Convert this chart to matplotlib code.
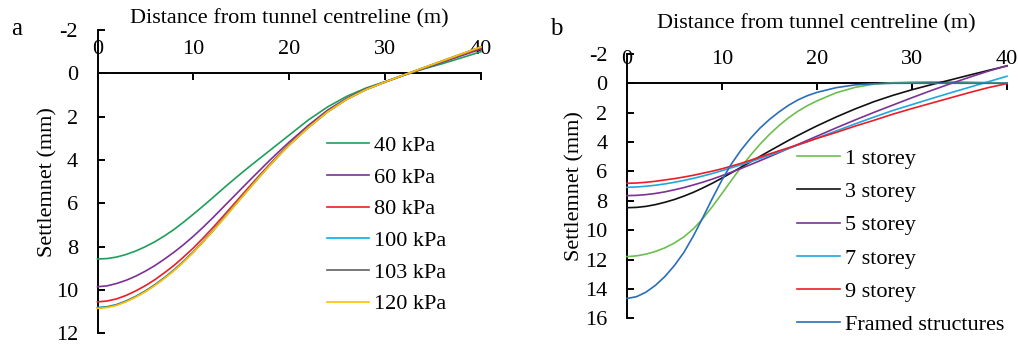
import matplotlib
matplotlib.use('Agg')
import matplotlib.pyplot as plt

plt.rcParams['font.family'] = ['Liberation Serif', 'DejaVu Serif']
plt.rcParams['axes.unicode_minus'] = False

# ---------------- data ----------------
distance = [0, 1, 2, 3, 4, 5, 6, 7, 8, 9, 10, 11, 12, 13, 14, 15, 16, 17, 18, 19, 20,
            22, 24, 26, 28, 30, 32, 34, 36, 38, 40]

# Panel a : face pressure
labels_a = ['40 kPa', '60 kPa', '80 kPa', '100 kPa', '103 kPa', '120 kPa']
s_40kpa = [8.57, 8.55, 8.48, 8.36, 8.20, 8.00, 7.77, 7.50, 7.20, 6.86, 6.50, 6.13, 5.75, 5.36, 4.98, 4.61, 4.25, 3.90, 3.55, 3.20, 2.85,
           2.15, 1.55, 1.06, 0.68, 0.38, 0.07, -0.20, -0.45, -0.72, -1.00]
s_60kpa = [9.85, 9.81, 9.70, 9.55, 9.36, 9.13, 8.87, 8.57, 8.25, 7.90, 7.52, 7.11, 6.68, 6.23, 5.78, 5.33, 4.88, 4.44, 4.00, 3.58, 3.17,
           2.40, 1.70, 1.15, 0.72, 0.40, 0.08, -0.22, -0.52, -0.82, -1.12]
s_80kpa = [10.55, 10.51, 10.41, 10.25, 10.04, 9.80, 9.52, 9.20, 8.86, 8.47, 8.06, 7.61, 7.14, 6.65, 6.15, 5.65, 5.15, 4.66, 4.18, 3.71, 3.27,
           2.47, 1.75, 1.18, 0.74, 0.40, 0.08, -0.24, -0.55, -0.86, -1.17]
s_100kpa = [10.81, 10.77, 10.67, 10.50, 10.29, 10.04, 9.75, 9.42, 9.06, 8.66, 8.23, 7.76, 7.27, 6.76, 6.24, 5.73, 5.22, 4.71, 4.22, 3.75, 3.30,
            2.49, 1.77, 1.19, 0.75, 0.40, 0.07, -0.25, -0.57, -0.89, -1.21]
s_103kpa = [10.83, 10.79, 10.69, 10.52, 10.31, 10.06, 9.77, 9.44, 9.08, 8.68, 8.25, 7.78, 7.29, 6.78, 6.26, 5.74, 5.23, 4.72, 4.23, 3.76, 3.31,
            2.50, 1.78, 1.20, 0.75, 0.40, 0.07, -0.26, -0.58, -0.90, -1.22]
s_120kpa = [10.85, 10.81, 10.71, 10.54, 10.33, 10.08, 9.79, 9.46, 9.10, 8.70, 8.26, 7.79, 7.30, 6.79, 6.27, 5.75, 5.24, 4.73, 4.24, 3.76, 3.31,
            2.50, 1.78, 1.20, 0.75, 0.40, 0.07, -0.26, -0.58, -0.90, -1.22]

# Panel b : building storeys
labels_b = ['1 storey', '3 storey', '5 storey', '7 storey', '9 storey', 'Framed structures']
s_1st = [11.80, 11.75, 11.63, 11.45, 11.20, 10.87, 10.45, 9.90, 9.20, 8.38, 7.50, 6.60, 5.72, 4.90, 4.15, 3.48, 2.88, 2.35, 1.90, 1.52, 1.20,
         0.65, 0.28, 0.06, -0.04, -0.08, -0.10, -0.10, -0.08, -0.05, -0.02]
s_3st = [8.47, 8.45, 8.38, 8.26, 8.10, 7.91, 7.68, 7.42, 7.12, 6.80, 6.45, 6.09, 5.72, 5.35, 4.98, 4.61, 4.25, 3.89, 3.55, 3.22, 2.90,
         2.30, 1.75, 1.25, 0.82, 0.44, 0.10, -0.22, -0.55, -0.87, -1.18]
s_5st = [7.65, 7.63, 7.58, 7.50, 7.39, 7.25, 7.10, 6.92, 6.73, 6.52, 6.29, 6.05, 5.80, 5.54, 5.27, 5.00, 4.72, 4.44, 4.16, 3.88, 3.60,
         3.04, 2.50, 1.98, 1.48, 0.98, 0.50, 0.04, -0.40, -0.82, -1.20]
s_7st = [7.08, 7.06, 7.01, 6.94, 6.85, 6.74, 6.61, 6.47, 6.31, 6.14, 5.95, 5.75, 5.55, 5.34, 5.12, 4.90, 4.67, 4.44, 4.20, 3.97, 3.73,
         3.25, 2.77, 2.30, 1.85, 1.45, 1.05, 0.66, 0.28, -0.10, -0.48]
s_9st = [6.81, 6.79, 6.74, 6.67, 6.58, 6.49, 6.38, 6.26, 6.12, 5.98, 5.82, 5.64, 5.45, 5.24, 5.02, 4.81, 4.60, 4.39, 4.18, 3.97, 3.75,
         3.35, 2.92, 2.52, 2.10, 1.72, 1.36, 1.00, 0.64, 0.30, 0.02]
s_frame = [14.65, 14.53, 14.22, 13.75, 13.15, 12.40, 11.50, 10.38, 9.12, 7.82, 6.58, 5.48, 4.55, 3.75, 3.05, 2.46, 1.95, 1.50, 1.13, 0.84, 0.62,
           0.30, 0.11, 0.03, 0.00, 0.00, 0.00, 0.00, 0.00, 0.00, 0.00]

colors_a = ['#1f9e5a', '#7b3294', '#ee1c25', '#00b0f0', '#606060', '#ffc000']
colors_b = ['#6cbf4f', '#111111', '#7b3294', '#1fa8e0', '#ee1c25', '#2a6ebb']

W, H = 1018, 345
fig = plt.figure(figsize=(W / 100, H / 100), dpi=100)


def px_rect(l, r, top, bottom):
    return [l / W, 1 - bottom / H, (r - l) / W, (bottom - top) / H]


axA = fig.add_axes(px_rect(97.5, 481, 30, 333.3))
axB = fig.add_axes(px_rect(627, 1007, 53.9, 318.3))


def style(ax, ymin, ymax):
    ax.set_xlim(0, 40)
    ax.set_ylim(ymax, ymin)
    ax.spines['right'].set_visible(False)
    ax.spines['bottom'].set_visible(False)
    ax.spines['top'].set_position(('data', 0))
    ax.xaxis.set_ticks_position('top')
    ax.set_xticks([0, 10, 20, 30, 40])
    ax.set_yticks(list(range(ymin, ymax + 1, 2)))
    ax.tick_params(axis='x', direction='in', length=5, width=1.4, pad=10, labelsize=16)
    ax.tick_params(axis='y', direction='in', length=5, width=1.4, pad=14, labelsize=16)
    for s in ['top', 'left']:
        ax.spines[s].set_linewidth(1.4)
    ax.patch.set_visible(False)


style(axA, -2, 12)
style(axB, -2, 16)

series_a = [s_40kpa, s_60kpa, s_80kpa, s_100kpa, s_103kpa, s_120kpa]
for vals, lab, col in zip(series_a, labels_a, colors_a):
    axA.plot(distance, vals, color=col, lw=1.2, label=lab, zorder=3, clip_on=False)

series_b = [s_1st, s_3st, s_5st, s_7st, s_9st, s_frame]
for vals, lab, col in zip(series_b, labels_b, colors_b):
    axB.plot(distance, vals, color=col, lw=1.2, label=lab, zorder=3, clip_on=False)

axA.legend(loc='upper left', bbox_to_anchor=(327 / W, 1 - 135.5 / H), bbox_transform=fig.transFigure,
           frameon=False, fontsize=16, handlelength=1.9, handletextpad=0.23, labelspacing=0.50,
           borderpad=0, borderaxespad=0)
axB.legend(loc='upper left', bbox_to_anchor=(797 / W, 1 - 148.5 / H), bbox_transform=fig.transFigure,
           frameon=False, fontsize=16, handlelength=1.95, handletextpad=0.23, labelspacing=0.57,
           borderpad=0, borderaxespad=0)

# axis titles
fig.text(289 / W, 1 - 18.5 / H, 'Distance from tunnel centreline (m)', ha='center', va='center', fontsize=16)
fig.text(816 / W, 1 - 23.5 / H, 'Distance from tunnel centreline (m)', ha='center', va='center', fontsize=16)
fig.text(48 / W, 1 - 182 / H, 'Settlemnet (mm)', ha='center', va='center', rotation=90, fontsize=16)
fig.text(575 / W, 1 - 186 / H, 'Settlemnet (mm)', ha='center', va='center', rotation=90, fontsize=16)

# panel letters
fig.text(16.5 / W, 1 - 35 / H, 'a', ha='center', va='baseline', fontsize=18)
fig.text(556 / W, 1 - 35 / H, 'b', ha='center', va='baseline', fontsize=18)

fig.savefig('out.png', dpi=100)
